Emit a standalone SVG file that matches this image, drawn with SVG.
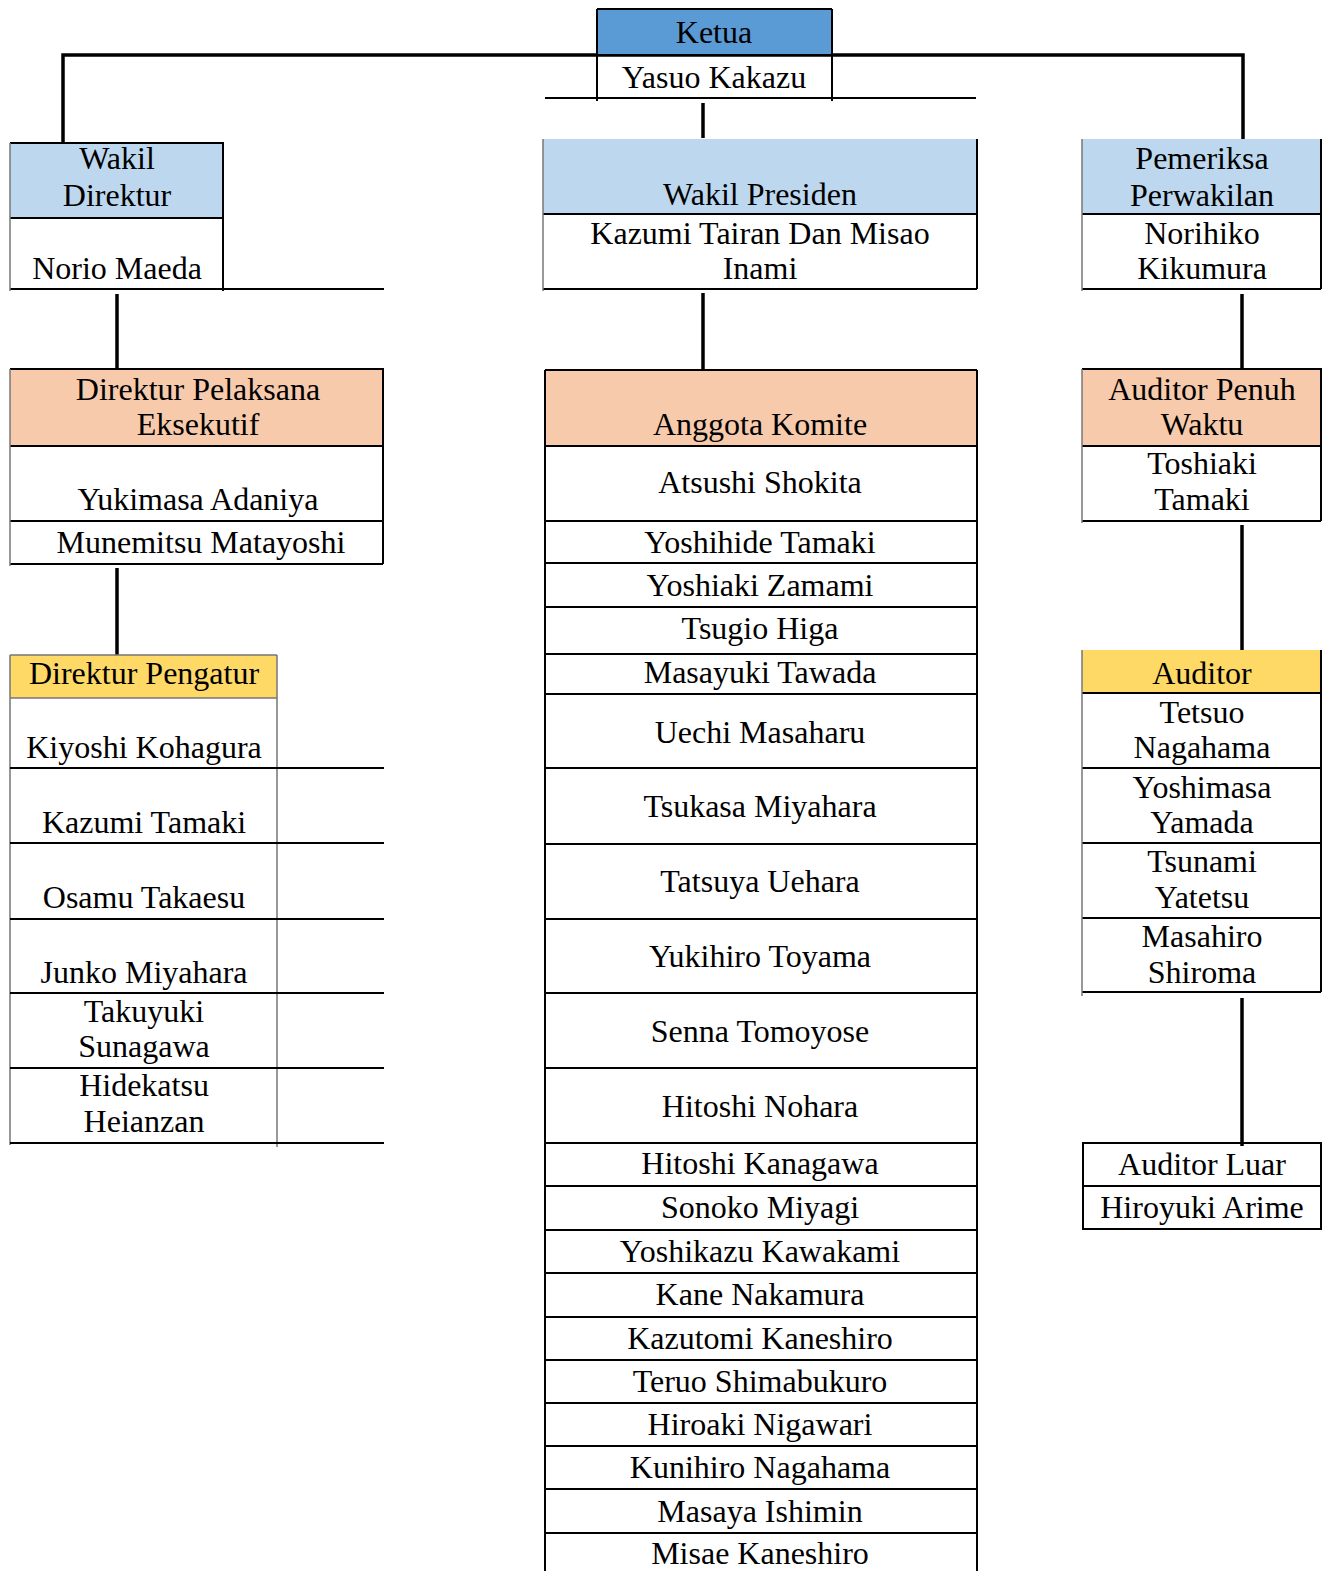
<svg xmlns="http://www.w3.org/2000/svg" width="1329" height="1571" viewBox="0 0 1329 1571">
<style>
.t{font-family:"Liberation Serif","Times New Roman",serif;font-size:32px;fill:#000;text-anchor:middle}
.ln{stroke:#000;stroke-width:2;fill:none}
.lg{stroke:#777;stroke-width:1.5;fill:none}
.cn{stroke:#000;stroke-width:3.5;fill:none}
.blue{fill:#5B9BD5}
.lblue{fill:#BDD7EE}
.orange{fill:#F7CAAC}
.yellow{fill:#FFD966}
</style>
<rect width="1329" height="1571" fill="#fff"/>
<g id="connectors">
<path class="cn" d="M63,143 V55 H1243 V139"/>
<path class="cn" d="M703,103 V138"/>
<path class="cn" d="M703,293 V369"/>
<path class="cn" d="M117,294 V369"/>
<path class="cn" d="M117,568 V655"/>
<path class="cn" d="M1242,294 V369"/>
<path class="cn" d="M1242,525 V650"/>
<path class="cn" d="M1242,998 V1146"/>
</g>
<g id="ketua" transform="translate(0,1)">
<rect class="blue" x="597" y="8" width="235" height="46"/>
<rect fill="#fff" x="597" y="56" width="235" height="41"/>
<path class="ln" d="M597,8 H832 M597,8 V100 M832,8 V100 M597,54 H832 M545,97 H976"/>
<text class="t" x="714" y="42">Ketua</text>
<text class="t" x="714" y="87">Yasuo Kakazu</text>
</g>
<g id="wakil-direktur">
<rect class="lblue" x="10" y="143" width="213" height="75"/>
<path class="ln" d="M10,143 H223 V291 M10,218 H223 M10,289 H384"/>
<path class="lg" d="M10,143 V291"/>
<text class="t" x="117" y="169">Wakil</text>
<text class="t" x="117" y="206">Direktur</text>
<text class="t" x="117" y="279">Norio Maeda</text>
</g>
<g id="wakil-presiden">
<rect class="lblue" x="543" y="139" width="434" height="75"/>
<path class="ln" d="M977,139 V289 M543,214 H977 M543,289 H977"/>
<path class="lg" d="M543,139 V291"/>
<text class="t" x="760" y="205">Wakil Presiden</text>
<text class="t" x="760" y="244">Kazumi Tairan Dan Misao</text>
<text class="t" x="760" y="279">Inami</text>
</g>
<g id="pemeriksa-perwakilan">
<rect class="lblue" x="1082" y="139" width="239" height="75"/>
<path class="ln" d="M1321,139 V289 M1082,214 H1321 M1082,289 H1321"/>
<path class="lg" d="M1082,139 V291"/>
<text class="t" x="1202" y="169">Pemeriksa</text>
<text class="t" x="1202" y="206">Perwakilan</text>
<text class="t" x="1202" y="244">Norihiko</text>
<text class="t" x="1202" y="279">Kikumura</text>
</g>
<g id="direktur-pelaksana-eksekutif">
<rect class="orange" x="10" y="369" width="373" height="77"/>
<path class="ln" d="M10,369 H383 V564 M10,446 H383 M10,521 H383 M10,564 H383"/>
<path class="lg" d="M10,369 V566"/>
<text class="t" x="198" y="400">Direktur Pelaksana</text>
<text class="t" x="198" y="435">Eksekutif</text>
<text class="t" x="198" y="510">Yukimasa Adaniya</text>
<text class="t" x="201" y="553">Munemitsu Matayoshi</text>
</g>
<g id="anggota-komite">
<rect class="orange" x="545" y="370" width="432" height="76"/>
<path class="ln" d="M545,370 H977 M545,370 V1571 M977,370 V1571 M545,446 H977 M545,521 H977 M545,563 H977 M545,607 H977 M545,654 H977 M545,694 H977 M545,768 H977 M545,844 H977 M545,919 H977 M545,993 H977 M545,1068 H977 M545,1143 H977 M545,1186 H977 M545,1230 H977 M545,1273 H977 M545,1317 H977 M545,1360 H977 M545,1403 H977 M545,1446 H977 M545,1489 H977 M545,1533 H977"/>
<text class="t" x="760" y="435">Anggota Komite</text>
<text class="t" x="760" y="493">Atsushi Shokita</text>
<text class="t" x="760" y="553">Yoshihide Tamaki</text>
<text class="t" x="760" y="596">Yoshiaki Zamami</text>
<text class="t" x="760" y="639">Tsugio Higa</text>
<text class="t" x="760" y="683">Masayuki Tawada</text>
<text class="t" x="760" y="743">Uechi Masaharu</text>
<text class="t" x="760" y="817">Tsukasa Miyahara</text>
<text class="t" x="760" y="892">Tatsuya Uehara</text>
<text class="t" x="760" y="967">Yukihiro Toyama</text>
<text class="t" x="760" y="1042">Senna Tomoyose</text>
<text class="t" x="760" y="1117">Hitoshi Nohara</text>
<text class="t" x="760" y="1174">Hitoshi Kanagawa</text>
<text class="t" x="760" y="1218">Sonoko Miyagi</text>
<text class="t" x="760" y="1262">Yoshikazu Kawakami</text>
<text class="t" x="760" y="1305">Kane Nakamura</text>
<text class="t" x="760" y="1349">Kazutomi Kaneshiro</text>
<text class="t" x="760" y="1392">Teruo Shimabukuro</text>
<text class="t" x="760" y="1435">Hiroaki Nigawari</text>
<text class="t" x="760" y="1478">Kunihiro Nagahama</text>
<text class="t" x="760" y="1522">Masaya Ishimin</text>
<text class="t" x="760" y="1564">Misae Kaneshiro</text>
</g>
<g id="auditor-penuh-waktu">
<rect class="orange" x="1082" y="369" width="239" height="77"/>
<path class="ln" d="M1082,369 H1321 V521 M1082,446 H1321 M1082,521 H1321"/>
<path class="lg" d="M1082,369 V523"/>
<text class="t" x="1202" y="400">Auditor Penuh</text>
<text class="t" x="1202" y="435">Waktu</text>
<text class="t" x="1202" y="474">Toshiaki</text>
<text class="t" x="1202" y="510">Tamaki</text>
</g>
<g id="direktur-pengatur">
<rect class="yellow" x="10" y="655" width="267" height="43"/>
<path class="lg" d="M10,655 H277 M10,698 H277 M10,655 V1145 M277,655 V1147"/>
<path class="ln" d="M10,768 H384 M10,843 H384 M10,919 H384 M10,993 H384 M10,1068 H384 M10,1143 H384"/>
<text class="t" x="144" y="684">Direktur Pengatur</text>
<text class="t" x="144" y="758">Kiyoshi Kohagura</text>
<text class="t" x="144" y="833">Kazumi Tamaki</text>
<text class="t" x="144" y="908">Osamu Takaesu</text>
<text class="t" x="144" y="983">Junko Miyahara</text>
<text class="t" x="144" y="1022">Takuyuki</text>
<text class="t" x="144" y="1057">Sunagawa</text>
<text class="t" x="144" y="1096">Hidekatsu</text>
<text class="t" x="144" y="1132">Heianzan</text>
</g>
<g id="auditor">
<rect class="yellow" x="1082" y="650" width="239" height="43"/>
<path class="ln" d="M1321,650 V992 M1082,693 H1321 M1082,768 H1321 M1082,843 H1321 M1082,918 H1321 M1082,992 H1321"/>
<path class="lg" d="M1082,650 V996"/>
<text class="t" x="1202" y="684">Auditor</text>
<text class="t" x="1202" y="723">Tetsuo</text>
<text class="t" x="1202" y="758">Nagahama</text>
<text class="t" x="1202" y="798">Yoshimasa</text>
<text class="t" x="1202" y="833">Yamada</text>
<text class="t" x="1202" y="872">Tsunami</text>
<text class="t" x="1202" y="908">Yatetsu</text>
<text class="t" x="1202" y="947">Masahiro</text>
<text class="t" x="1202" y="983">Shiroma</text>
</g>
<g id="auditor-luar">
<rect class="ln" x="1083" y="1143" width="238" height="86" fill="#fff"/>
<path class="ln" d="M1083,1186 H1321"/>
<text class="t" x="1202" y="1175">Auditor Luar</text>
<text class="t" x="1202" y="1218">Hiroyuki Arime</text>
</g>
</svg>
